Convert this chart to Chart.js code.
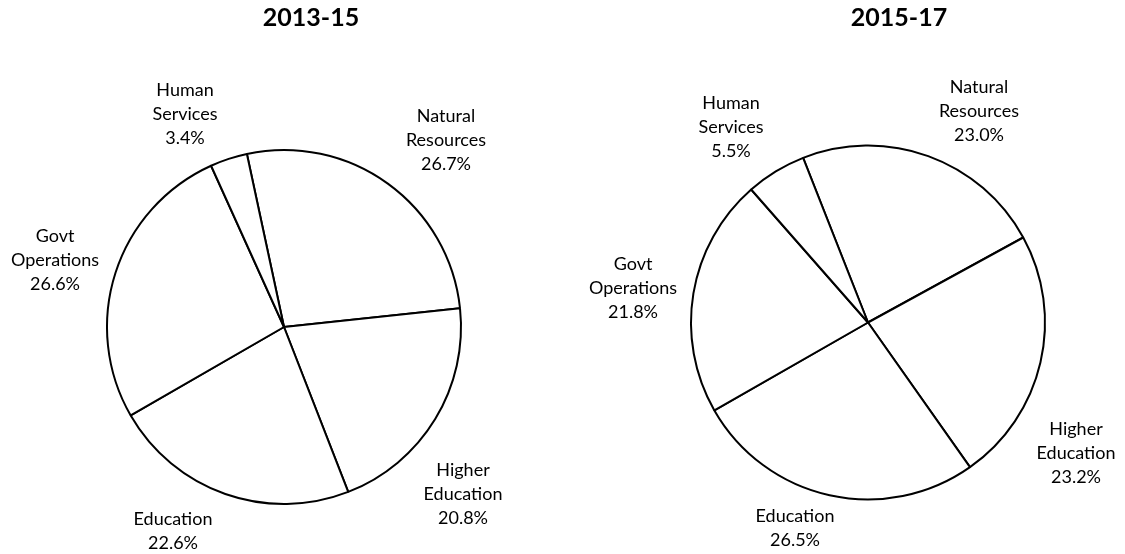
<!DOCTYPE html>
<html>
<head>
<meta charset="utf-8">
<script src="https://cdn.jsdelivr.net/npm/chart.js@4.4.1/dist/chart.umd.min.js"></script>
<style>
  html, body { margin: 0; padding: 0; background: #ffffff; overflow: hidden; }
  #wrap { position: relative; width: 1125px; height: 554px; }
  canvas { position: absolute; top: 0; }
  #c1 { left: 0; }
  #c2 { left: 562px; }
</style>
</head>
<body>
<div id="wrap">
  <canvas id="c1" width="562" height="554"></canvas>
  <canvas id="c2" width="563" height="554"></canvas>
</div>
<script>
// ---- data ----
const categories = ['Natural Resources', 'Higher Education', 'Education', 'Govt Operations', 'Human Services'];
const labelLines = [['Natural', 'Resources'], ['Higher', 'Education'], ['Education'], ['Govt', 'Operations'], ['Human', 'Services']];
const values2013 = [26.7, 20.8, 22.6, 26.6, 3.4];
const values2015 = [23.0, 23.2, 26.5, 21.8, 5.5];
const title2013 = '2013-15';
const title2015 = '2015-17';

// ---- layout / style (not data) ----
const LABEL_FONT = '18px Lato';
const TITLE_FONT = 'bold 25px Lato';
const LINE_H = 24;

function labelPlugin(titleText, titleDx, titleY, offsets) {
  return {
    id: 'pieLabels',
    afterDraw(chart) {
      const ctx = chart.ctx;
      const meta = chart.getDatasetMeta(0);
      const ds = chart.data.datasets[0];
      const first = meta.data[0];
      const cx = first.x, cy = first.y;
      ctx.save();
      ctx.fillStyle = '#000';
      ctx.textAlign = 'center';
      ctx.textBaseline = 'middle';
      ctx.font = TITLE_FONT;
      ctx.fillText(titleText, cx + titleDx, titleY);
      ctx.font = LABEL_FONT;
      meta.data.forEach((arc, i) => {
        const lines = labelLines[i].concat([ds.data[i].toFixed(1) + '%']);
        const bx = arc.x + offsets[i][0];
        const by = arc.y + offsets[i][1];
        const n = lines.length;
        lines.forEach((t, k) => {
          ctx.fillText(t, bx, by + (k - (n - 1) / 2) * LINE_H);
        });
      });
      ctx.restore();
    }
  };
}

function makePie(canvasId, values, rotation, padding, titleText, titleDx, offsets) {
  return new Chart(document.getElementById(canvasId), {
    type: 'pie',
    data: {
      labels: categories,
      datasets: [{
        data: values,
        backgroundColor: '#ffffff',
        borderColor: '#000000',
        borderWidth: 2,
        radius: 177
      }]
    },
    options: {
      responsive: false,
      animation: false,
      devicePixelRatio: 1,
      rotation: rotation,
      layout: { padding: padding },
      plugins: {
        legend: { display: false },
        tooltip: { enabled: false },
        title: { display: false }
      }
    },
    plugins: [labelPlugin(titleText, titleDx, 18, offsets)]
  });
}

makePie('c1', values2013, -12.1, { left: 6, right: 0, top: 100, bottom: 0 }, title2013, 27,
  [[162, -187], [179, 167], [-111, 204], [-229, -67], [-99, -213]]);
makePie('c2', values2015, -21.5, { left: 49, right: 0, top: 91, bottom: 0 }, title2015, 31,
  [[111, -211], [208, 131], [-73, 206], [-235, -34], [-137, -195]]);
</script>
</body>
</html>
